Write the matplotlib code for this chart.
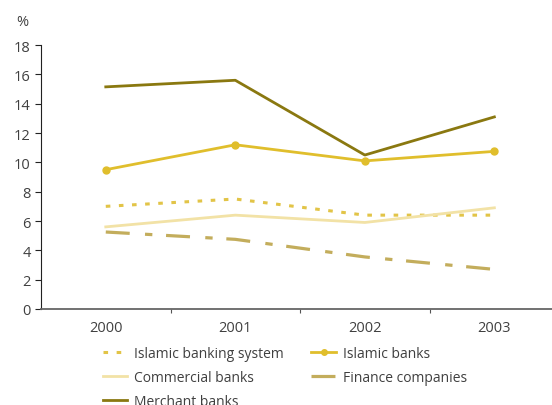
import matplotlib
matplotlib.use("Agg")
from matplotlib import pyplot as plt
from matplotlib.ticker import FixedLocator, NullFormatter

plt.rcParams['font.family'] = ['Open Sans', 'DejaVu Sans']

years = ["2000", "2001", "2002", "2003"]
islamic_system = [7.0, 7.5, 6.4, 6.4]
islamic_banks = [9.5, 11.2, 10.1, 10.75]
commercial = [5.6, 6.4, 5.9, 6.9]
finance = [5.25, 4.75, 3.55, 2.7]
merchant = [15.15, 15.6, 10.5, 13.1]

text_col = "#404040"

fig = plt.figure(figsize=(5.52, 4.06), dpi=100)
ax = fig.add_axes([0.0743, 0.2365, 0.9257, 0.650])

x = range(len(years))
l1, = ax.plot(x, islamic_system, color="#E2C447", lw=2.2, linestyle=(0, (1.5, 2.8)),
              label="Islamic banking system")
l2, = ax.plot(x, islamic_banks, color="#E0BE2C", lw=2.0, marker="o", markersize=5,
              label="Islamic banks")
l3, = ax.plot(x, commercial, color="#F2E2A6", lw=2.0, label="Commercial banks")
l4, = ax.plot(x, finance, color="#C3AD5C", lw=2.3, linestyle=(0, (7.5, 4.8, 2.3, 4.3)),
              label="Finance companies")
l5, = ax.plot(x, merchant, color="#8A7810", lw=2.0, label="Merchant banks")

ax.set_xlim(-0.5, 3.445)
ax.set_ylim(0, 18)
ax.set_yticks(range(0, 19, 2))
ax.xaxis.set_major_locator(FixedLocator([0.5, 1.5, 2.5]))
ax.xaxis.set_major_formatter(NullFormatter())
ax.xaxis.set_minor_locator(FixedLocator([0, 1, 2, 3]))
ax.set_xticklabels(years, minor=True)
ax.tick_params(axis="x", which="minor", length=0, pad=8, labelsize=10.5, labelcolor=text_col)
ax.tick_params(axis="x", which="major", length=3, color="#555555")
ax.tick_params(axis="y", length=4, labelsize=10.5, labelcolor=text_col, color="#222222")

for s in ["top", "right"]:
    ax.spines[s].set_visible(False)
ax.spines["left"].set_color("#222222")
ax.spines["bottom"].set_color("#666666")
ax.spines["bottom"].set_linewidth(1.3)

fig.text(0.04, 0.945, "%", fontsize=10.5, color=text_col, ha="center", va="center")

leg = fig.legend(handles=[l1, l3, l5, l2, l4], loc="upper left", bbox_to_anchor=(0.186, 0.145),
                 ncol=2, frameon=False, fontsize=10, labelcolor=text_col,
                 handlelength=1.75, handletextpad=0.5, columnspacing=2.0,
                 labelspacing=0.64, borderaxespad=0, borderpad=0, markerscale=0.8)

fig.savefig("out.png", dpi=100)
